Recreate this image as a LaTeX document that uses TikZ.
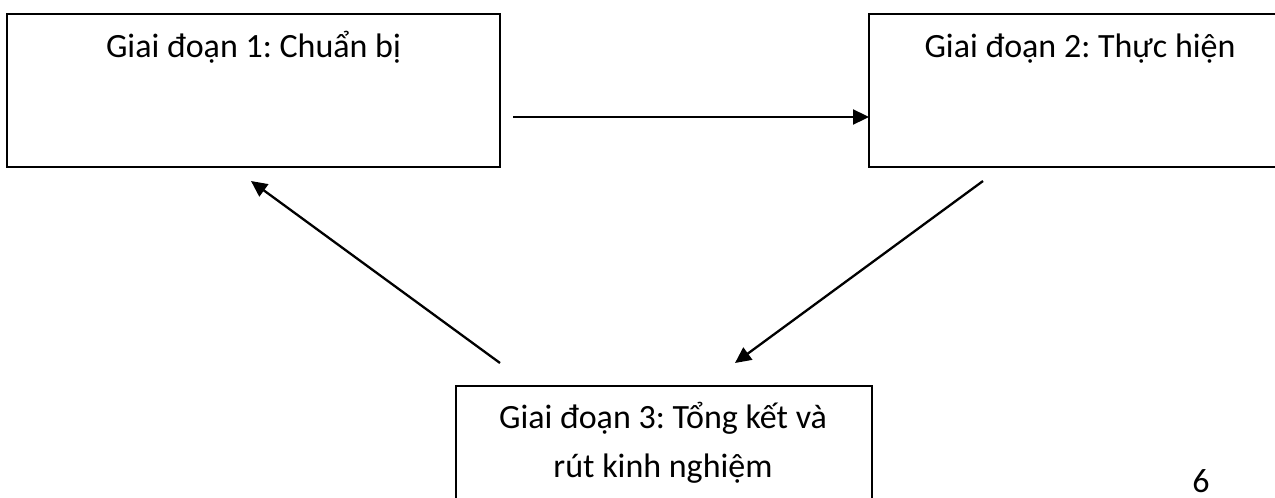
\documentclass[tikz,border=0pt]{standalone}
\usepackage{fontspec}
\setmainfont{Carlito}
\frenchspacing
\usetikzlibrary{arrows.meta}
\tikzset{
  stagebox/.style={draw=black, line width=2pt, fill=none, inner sep=0pt},
  stagetext/.style={anchor=base, inner sep=0pt, font=\fontsize{34}{40}\selectfont},
  flow/.style={line width=2.3pt, -{Triangle[length=16pt,width=15pt]}}
}
\begin{document}
\begin{tikzpicture}[x=1pt,y=-1pt]
\useasboundingbox (0,0) rectangle (1275,498);
\clip (0,0) rectangle (1275,498);
\fill[white] (0,0) rectangle (1275,498);
% boxes
\node[stagebox, minimum width=493pt, minimum height=153pt] (b1) at (253.5,90.5) {};
\node[stagebox, minimum width=422pt, minimum height=153pt] (b2) at (1080,90.5) {};
\node[stagebox, minimum width=416pt, minimum height=144pt] (b3) at (664,458) {};
% texts
\node[stagetext] (t1) at (253.5,57) {Giai đoạn 1: Chuẩn bị};
\node[stagetext] (t2) at (1080,57) {Giai đoạn 2: Thực hiện};
\node[stagetext] (t3a) at (663,428) {Giai đoạn 3: Tổng kết và};
\node[stagetext] (t3b) at (663,477) {rút kinh nghiệm};
\node[stagetext] (pg) at (1201,492) {6};
% connector ends
\coordinate (a1s) at (513,117);
\coordinate (a1e) at (869,117);
\coordinate (a2s) at (983,181);
\coordinate (a2e) at (735,363);
\coordinate (a3s) at (500,363);
\coordinate (a3e) at (251,181);
\draw[flow] (a1s) -- (a1e);
\draw[flow] (a2s) -- (a2e);
\draw[flow] (a3s) -- (a3e);
\end{tikzpicture}
\end{document}
